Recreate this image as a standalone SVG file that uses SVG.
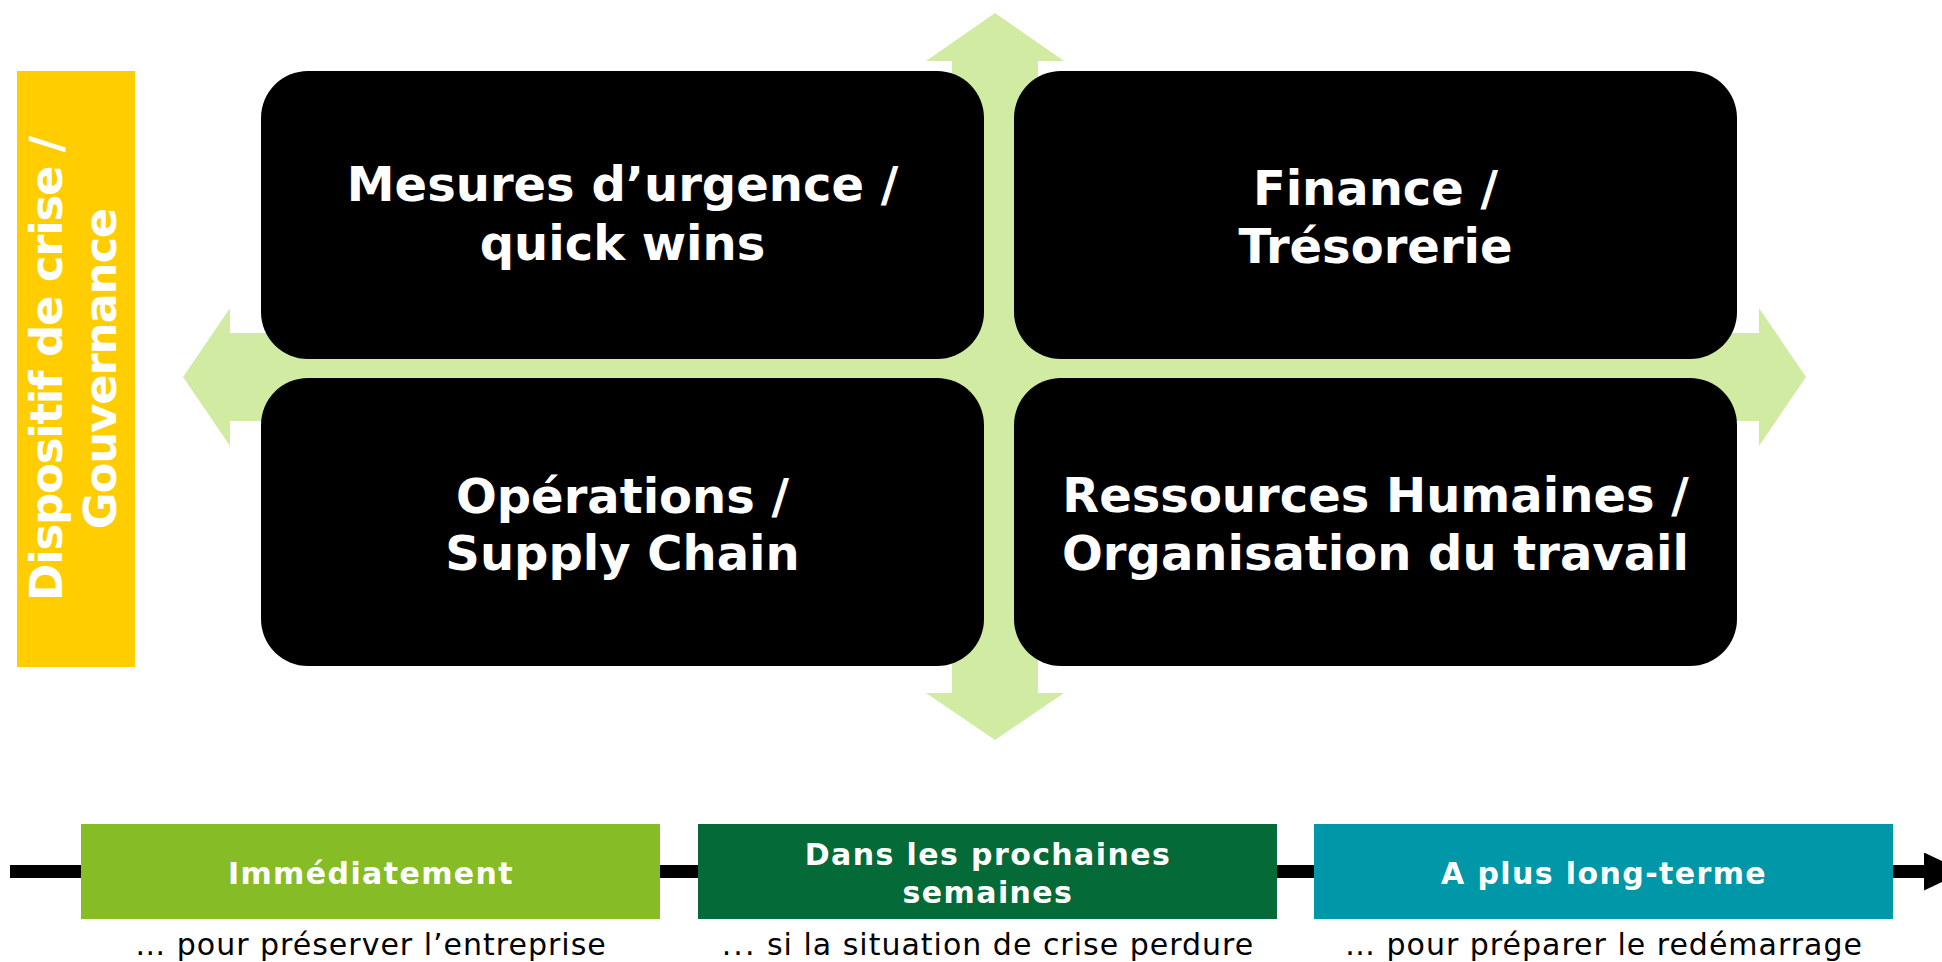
<svg xmlns="http://www.w3.org/2000/svg" width="1942" height="962" viewBox="0 0 1942 962">
  <style>
    .quad { fill: #000000; }
    .quad-label { font-family: "DejaVu Sans", Verdana, sans-serif; font-weight: bold; font-size: 48px; fill: #ffffff; text-anchor: middle; }
    .side-label { font-family: "DejaVu Sans", Verdana, sans-serif; font-weight: bold; font-size: 45px; letter-spacing: -1.2px; fill: #ffffff; text-anchor: middle; }
    .phase-label { font-family: "DejaVu Sans", Verdana, sans-serif; font-weight: bold; font-size: 30px; letter-spacing: 1.4px; fill: #ffffff; text-anchor: middle; }
    .caption { font-family: "DejaVu Sans", Verdana, sans-serif; font-size: 30px; letter-spacing: 1px; fill: #000000; text-anchor: middle; }
  </style>
  <defs>
    <marker id="timeHead" markerUnits="userSpaceOnUse" markerWidth="42" markerHeight="38" refX="0" refY="19" orient="auto">
      <path d="M0,0 L40,19 L0,38 Z" fill="#000000"/>
    </marker>
  </defs>

  <rect width="1942" height="962" fill="#ffffff"/>

  <!-- four-way arrow behind the quadrants -->
  <g id="cross-arrow">
    <polygon fill="#d1eba3" points="995,13 1064,61 1038,61 1038,333 1759,333 1759,308 1806,377 1759,446 1759,421 1038,421 1038,693 1064,693 995,740 926,693 952,693 952,421 230,421 230,446 183,377 230,308 230,333 952,333 952,61 926,61"/>
  </g>

  <!-- governance side bar -->
  <g id="gouvernance">
    <rect x="17" y="71" width="118" height="596" fill="#ffcd00"/>
    <text class="side-label" transform="translate(62,369) rotate(-90)">Dispositif de crise /</text>
    <text class="side-label" transform="translate(116,369) rotate(-90)">Gouvernance</text>
  </g>

  <!-- quadrants -->
  <g id="mesures-urgence">
    <rect class="quad" x="261" y="71" width="723" height="288" rx="47" ry="47"/>
    <text class="quad-label" x="622.5" y="201">Mesures d’urgence /</text>
    <text class="quad-label" x="622.5" y="260">quick wins</text>
  </g>
  <g id="finance">
    <rect class="quad" x="1014" y="71" width="723" height="288" rx="47" ry="47"/>
    <text class="quad-label" x="1375.5" y="205">Finance /</text>
    <text class="quad-label" x="1375.5" y="263">Trésorerie</text>
  </g>
  <g id="operations">
    <rect class="quad" x="261" y="378" width="723" height="288" rx="47" ry="47"/>
    <text class="quad-label" x="622.5" y="513">Opérations /</text>
    <text class="quad-label" x="622.5" y="570">Supply Chain</text>
  </g>
  <g id="ressources-humaines">
    <rect class="quad" x="1014" y="378" width="723" height="288" rx="47" ry="47"/>
    <text class="quad-label" x="1375.5" y="512">Ressources Humaines /</text>
    <text class="quad-label" x="1375.5" y="570">Organisation du travail</text>
  </g>

  <!-- time axis -->
  <g id="connectors">
    <line x1="10" y1="871.5" x2="1924" y2="871.5" stroke="#000000" stroke-width="13" marker-end="url(#timeHead)"/>
  </g>

  <!-- phases -->
  <g id="immediatement">
    <rect x="81" y="824" width="579" height="95" fill="#86bc25"/>
    <text class="phase-label" x="371" y="884">Immédiatement</text>
    <text class="caption" x="371" y="955">… pour préserver l’entreprise</text>
  </g>
  <g id="prochaines-semaines">
    <rect x="698" y="824" width="579" height="95" fill="#046a38"/>
    <text class="phase-label" x="988" y="865">Dans les prochaines</text>
    <text class="phase-label" x="988" y="903">semaines</text>
    <text class="caption" x="988" y="955"><tspan letter-spacing="2px">...</tspan> si la situation de crise perdure</text>
  </g>
  <g id="long-terme">
    <rect x="1314" y="824" width="579" height="95" fill="#0097a9"/>
    <text class="phase-label" x="1604" y="884">A plus long-terme</text>
    <text class="caption" x="1604" y="955">… pour préparer le redémarrage</text>
  </g>
</svg>
